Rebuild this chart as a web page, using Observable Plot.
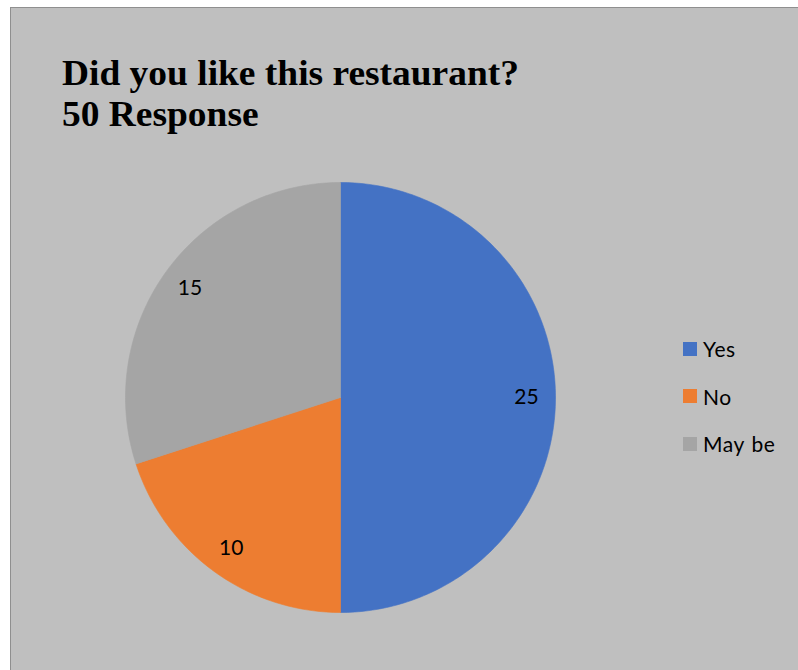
<!DOCTYPE html>
<html>
<head>
<meta charset="utf-8">
<script src="https://cdn.jsdelivr.net/npm/d3@7"></script>
<script src="https://cdn.jsdelivr.net/npm/@observablehq/plot@0.6"></script>
<style>
  html, body { margin: 0; padding: 0; background: #ffffff; }
  #frame {
    position: absolute; left: 10px; top: 7px; width: 800px; height: 680px;
    background: #bfbfbf; border-left: 1px solid #8f8f8f; border-top: 1px solid #8f8f8f;
    overflow: hidden;
  }
  #title {
    position: absolute; left: 51px; top: 45px; margin: 0; white-space: nowrap;
    font-family: "Liberation Serif", "Times New Roman", serif; font-weight: bold;
    font-size: 36px; line-height: 41px; color: #000;
    transform: scaleX(1.04); transform-origin: left top;
  }
  #chart { position: absolute; left: 103px; top: 166px; }
  #legend {
    position: absolute; left: 672px; top: 317px;
    font-family: Lato, "Open Sans", sans-serif; font-size: 21px; color: #000;
    letter-spacing: 0.6px; word-spacing: 1px;
  }
  .item { display: flex; align-items: center; height: 47.5px; }
  .sw { width: 14px; height: 14px; margin-right: 6px; }
</style>
</head>
<body>
<div id="frame">
  <div id="title">Did you like this restaurant?<br>50 Response</div>
  <div id="chart"></div>
  <div id="legend"></div>
</div>
<script>
const categories = ["Yes", "No", "May be"];
const values = [25, 10, 15];
const colors = ["#4472c4", "#ed7d31", "#a5a5a5"];

const arcs = d3.pie().sort(null).value(d => d.value)(
  categories.map((name, i) => ({name, value: values[i]}))
);

const polys = [];
for (const a of arcs) {
  const name = a.data.name;
  polys.push({name, x: 0, y: 0});
  const n = Math.max(8, Math.ceil((a.endAngle - a.startAngle) * 60));
  for (let k = 0; k <= n; k++) {
    const t = a.startAngle + (a.endAngle - a.startAngle) * k / n;
    polys.push({name, x: Math.sin(t), y: Math.cos(t)});
  }
  polys.push({name, x: 0, y: 0});
}
const labels = arcs.map(a => {
  const m = (a.startAngle + a.endAngle) / 2;
  return {name: a.data.name, value: a.data.value, x: 0.865 * Math.sin(m), y: 0.865 * Math.cos(m)};
});

const R = 215;
const plot = Plot.plot({
  width: 2 * R + 22, height: 2 * R + 16,
  marginLeft: 11, marginRight: 11, marginTop: 8, marginBottom: 8,
  x: {domain: [-1, 1], axis: null},
  y: {domain: [-1, 1], axis: null},
  color: {domain: categories, range: colors},
  style: {background: "transparent", overflow: "visible"},
  marks: [
    Plot.line(polys, {x: "x", y: "y", z: "name", fill: "name", stroke: "name", strokeWidth: 0.6}),
    Plot.text(labels, {x: "x", y: "y", text: d => String(d.value), fill: "#000",
      fontSize: 21, fontFamily: "Lato, 'Open Sans', sans-serif"})
  ]
});
document.getElementById("chart").appendChild(plot);

const legend = document.getElementById("legend");
categories.forEach((c, i) => {
  const item = document.createElement("div");
  item.className = "item";
  const sw = document.createElement("div");
  sw.className = "sw";
  sw.style.background = colors[i];
  const lab = document.createElement("span");
  lab.textContent = c;
  item.appendChild(sw); item.appendChild(lab);
  legend.appendChild(item);
});
</script>
</body>
</html>
